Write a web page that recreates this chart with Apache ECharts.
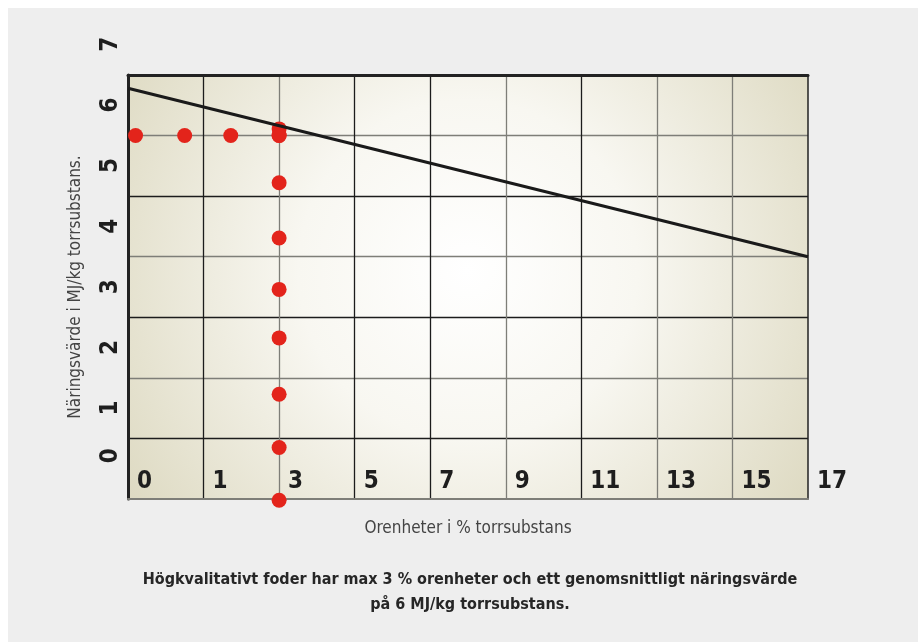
<!DOCTYPE html>
<html>
<head>
<meta charset="utf-8">
<title>Orenheter och näringsvärde</title>
<script src="https://cdn.jsdelivr.net/npm/echarts@6/dist/echarts.min.js"></script>
<style>
  html, body { margin: 0; padding: 0; background: #ffffff; }
  #panel { position: absolute; left: 8px; top: 8px; width: 910px; height: 634px; background: #eeeeee; }
  #chart { position: absolute; left: 0; top: 0; width: 918px; height: 642px; }
</style>
</head>
<body>
<div id="panel"></div>
<div id="chart"></div>
<script>
// tick labels (x: one per grid line, y: one per row)
const xTickLabels = ['0', '1', '3', '5', '7', '9', '11', '13', '15', '17'];
const yTickLabels = ['0', '1', '2', '3', '4', '5', '6', '7'];
const yRows = ['0', '1', '2', '3', '4', '5', '6'];

// red samples, x in grid-line units, y in row units
const sampleX = [0.1, 0.75, 1.36, 2.0, 2.0, 2.0, 2.0, 2.0, 2.0, 2.0, 2.0, 2.0, 2.0];
const sampleY = [5.5, 5.5, 5.5, 5.5, 5.61, 4.72, 3.81, 2.96, 2.16, 1.23, 0.35, -0.52, 5.5];

// black limit line
const limitX = [0, 9];
const limitY = [6.28, 3.5];

const FONT = "'Liberation Sans Narrow', 'DejaVu Sans Condensed', sans-serif";
const DARK = '#1c1c1c';
const GREY = '#7e7e78';

const chart = echarts.init(document.getElementById('chart'));

const option = {
  animation: false,
  backgroundColor: 'transparent',
  textStyle: { fontFamily: FONT },
  title: [
    {
      text: 'Högkvalitativt foder har max 3 % orenheter och ett genomsnittligt näringsvärde\npå 6 MJ/kg torrsubstans.',
      left: 465,
      top: 562,
      textAlign: 'center',
      textStyle: { fontFamily: FONT, fontSize: 16, fontWeight: 'bold', color: '#262626', lineHeight: 25, align: 'center' }
    }
  ],
  grid: [
    {
      left: 128, top: 75, width: 680, height: 424,
      show: true, borderWidth: 0,
      backgroundColor: new echarts.graphic.RadialGradient(0.5, 0.46, 1.0, [
        { offset: 0, color: '#ffffff' },
        { offset: 0.4, color: '#f8f7f1' },
        { offset: 1, color: '#dcd8bf' }
      ])
    },
    { left: 128, top: 14, width: 680, height: 485 }
  ],
  xAxis: [
    {
      gridIndex: 0, type: 'value', position: 'bottom',
      min: 0, max: 9, interval: 1,
      axisLine: { onZero: false, lineStyle: { color: GREY, width: 2 } },
      axisTick: { show: false },
      axisLabel: {
        inside: true, margin: 5, align: 'left', padding: [0, 0, 0, 9],
        fontFamily: FONT, fontSize: 24, fontWeight: 'bold', color: '#1e1e1e',
        formatter: (v) => xTickLabels[v]
      },
      splitLine: {
        show: true, showMinLine: false, showMaxLine: false,
        lineStyle: { width: 1.3, color: [DARK, GREY, DARK, DARK, GREY, DARK, GREY, GREY] }
      },
      name: 'Orenheter i % torrsubstans',
      nameLocation: 'middle', nameGap: 21,
      nameTextStyle: { fontFamily: FONT, fontSize: 17, color: '#444' }
    },
    {
      gridIndex: 0, type: 'value', position: 'top',
      min: 0, max: 9, interval: 1,
      axisLine: { onZero: false, lineStyle: { color: '#222', width: 3 } },
      axisTick: { show: false }, axisLabel: { show: false }, splitLine: { show: false }
    },
    { gridIndex: 1, type: 'value', min: 0, max: 9, show: false }
  ],
  yAxis: [
    {
      gridIndex: 0, type: 'category', data: yRows, boundaryGap: true, position: 'left',
      axisLine: { onZero: false, lineStyle: { color: '#222', width: 3 } },
      axisTick: { show: false }, axisLabel: { show: false },
      splitLine: {
        show: true, showMinLine: false, showMaxLine: false,
        lineStyle: { width: 1.3, color: [DARK, GREY] }
      },
      name: 'Näringsvärde i MJ/kg torrsubstans.',
      nameLocation: 'middle', nameGap: 44,
      nameTextStyle: { fontFamily: FONT, fontSize: 17, color: '#444' }
    },
    {
      gridIndex: 0, type: 'value', min: -0.5, max: 6.5, position: 'right',
      axisLine: { show: true, onZero: false, lineStyle: { color: '#222', width: 1.5 } },
      axisTick: { show: false }, axisLabel: { show: false }, splitLine: { show: false }
    },
    {
      gridIndex: 1, type: 'category', boundaryGap: true, position: 'left',
      data: yTickLabels.map((t) => t === '0' ? { value: t, textStyle: { padding: [0, 0, 0, 26] } } : t),
      axisLine: { show: false }, axisTick: { show: false }, splitLine: { show: false },
      axisLabel: {
        rotate: 90, margin: 5,
        fontFamily: FONT, fontSize: 24, fontWeight: 'bold', color: '#1e1e1e'
      }
    }
  ],
  series: [
    {
      type: 'scatter', xAxisIndex: 0, yAxisIndex: 1,
      symbolSize: 15, z: 3, clip: false,
      itemStyle: { color: '#e3241b', opacity: 1 },
      data: sampleX.map((x, i) => [x, sampleY[i]])
    },
    {
      type: 'line', xAxisIndex: 0, yAxisIndex: 1,
      symbol: 'none', z: 4, clip: false,
      lineStyle: { color: '#1a1a1a', width: 3 },
      data: limitX.map((x, i) => [x, limitY[i]])
    }
  ]
};

chart.setOption(option);
</script>
</body>
</html>
